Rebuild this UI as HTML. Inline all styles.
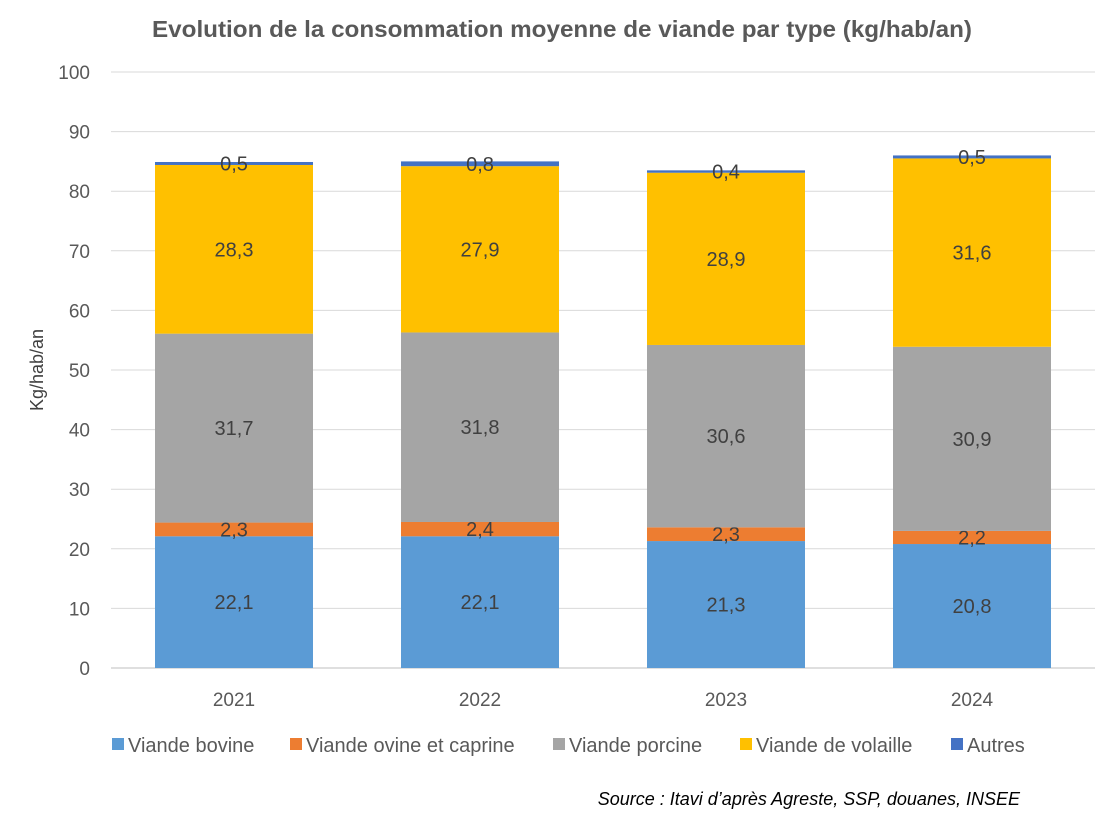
<!DOCTYPE html>
<html><head><meta charset="utf-8"><style>
body{margin:0;background:#fff;font-family:"Liberation Sans",sans-serif;}
svg text{font-family:"Liberation Sans",sans-serif;}
</style></head><body>
<svg id="chart" width="1120" height="817">
<text x="562" y="37" text-anchor="middle" font-size="23" font-weight="bold" fill="#595959" textLength="820" lengthAdjust="spacingAndGlyphs">Evolution de la consommation moyenne de viande par type (kg/hab/an)</text>
<text transform="translate(43,370) rotate(-90)" text-anchor="middle" font-size="18" fill="#404040">Kg/hab/an</text>
<g id="grid"></g><g id="bars"></g><g id="legend"></g>
<text x="1020" y="805" text-anchor="end" font-size="18" font-style="italic" fill="#000">Source : Itavi d’après Agreste, SSP, douanes, INSEE</text>
</svg>
<script>
const categories=["2021","2022","2023","2024"];
const seriesNames=["Viande bovine","Viande ovine et caprine","Viande porcine","Viande de volaille","Autres"];
const bovine=[22.1,22.1,21.3,20.8];
const ovine=[2.3,2.4,2.3,2.2];
const porcine=[31.7,31.8,30.6,30.9];
const volaille=[28.3,27.9,28.9,31.6];
const autres=[0.5,0.8,0.4,0.5];
const yTicks=[0,10,20,30,40,50,60,70,80,90,100];
const colors=["#5b9bd5","#ed7d31","#a5a5a5","#ffc000","#4472c4"];
const series=[bovine,ovine,porcine,volaille,autres];
const NS="http://www.w3.org/2000/svg";
const y0=668,y100=72,left=111,right=1095;
const yS=v=>y0-(v/100)*(y0-y100);
const band=(right-left)/categories.length,bw=158;
const xC=i=>left+band*(i+0.5);
function mk(t,a,p){const e=document.createElementNS(NS,t);for(const k in a)e.setAttribute(k,a[k]);p.appendChild(e);return e;}
const grid=document.getElementById('grid');
yTicks.forEach(t=>{
 const l=mk('line',{x1:left,x2:right,y1:yS(t),y2:yS(t),stroke:t===0?'#bfbfbf':'#d9d9d9','stroke-width':1},grid);
 
 
 const tx=mk('text',{x:90,y:yS(t)+7,'text-anchor':'end','font-size':19,fill:'#595959'},grid);tx.textContent=t;
 
 
});
const bars=document.getElementById('bars');
categories.forEach((c,i)=>{
 let acc=0;
 series.forEach((s,j)=>{
  const v=s[i];const yt=yS(acc+v),yb=yS(acc);
  const r=mk('rect',{x:xC(i)-bw/2,y:yt,width:bw,height:yb-yt,fill:colors[j]},bars);
  
  
  const lbl=mk('text',{x:xC(i),y:(yt+yb)/2+7,'text-anchor':'middle','font-size':20,fill:'#404040'},bars);
  lbl.textContent=String(v).replace('.',',');
  
  
  acc+=v;
 });
 const xt=mk('text',{x:xC(i),y:706,'text-anchor':'middle','font-size':19,fill:'#595959'},bars);xt.textContent=c;
 
 
});
const leg=document.getElementById('legend');
const lx=[112,290,553,740,951];
seriesNames.forEach((n,j)=>{
 const g=mk('g',{},leg);
 
 
 mk('rect',{x:lx[j],y:738,width:12,height:12,fill:colors[j]},g);
 const t=mk('text',{x:lx[j]+16,y:752,'font-size':20,fill:'#595959'},g);t.textContent=n;
});
</script>
</body></html>
